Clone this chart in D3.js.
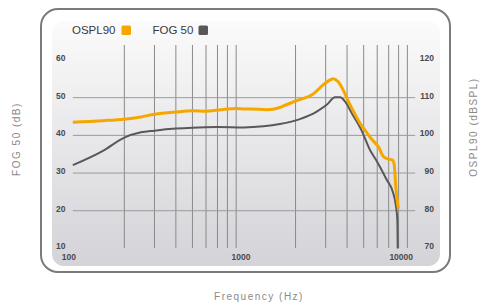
<!DOCTYPE html>
<html><head><meta charset="utf-8">
<script src="https://cdn.jsdelivr.net/npm/d3@7"></script>
<style>
html,body{margin:0;padding:0;background:#fff;}
svg{display:block;font-family:"Liberation Sans",Arial,Helvetica,sans-serif;}
</style></head>
<body><svg id="c" width="484" height="304"></svg>
<script>
// ---- data ----
const ospl90Freq = [100,150,200,250,300,400,500,600,700,800,900,1000,1100,1360,1620,1700,2030,2540,2900,3100,3320,3550,3800,4070,4550,4760,5090,5450,5960,6090,6510,6965,7350,7520,7730,7970];
const ospl90Vals = [103.5,103.9,104.3,104.9,105.6,106.2,106.5,106.4,106.7,107.0,107.1,107.0,107.0,106.8,107.4,107.8,109.2,111.0,113.4,114.4,115.0,114.2,112.0,109.0,104.8,103.2,101.4,99.5,97.5,97.0,94.4,93.7,93.5,92.6,85.5,80.6];
const fog50Freq = [100,150,200,250,300,400,500,700,1000,1300,1620,2120,2660,3040,3400,3640,3890,4260,4850,5445,5900,6816,7450,7727,7863,7905];
const fog50Vals = [32.1,35.9,39.4,40.8,41.25,41.8,42.05,42.2,42.1,42.4,43.0,44.3,46.3,48.1,50.1,50.1,49.0,45.9,41.4,36.1,33.5,28.2,24.6,21.1,17.6,10];
const gridFreqs = [200,300,400,500,600,700,800,900,2000,3000,4000,5000,6000,7000,8000,9000];
const xTickLabels = [100,1000,10000];
const leftTicks = [10,20,30,40,50,60];
const rightTicks = [70,80,90,100,110,120];
const hGridVals = [20,30,40,50];
const legendNames = ["OSPL90","FOG 50"];
const colors = {ospl:"#f5a700", fog:"#58585a"};

const svg = d3.select("#c");
const defs = svg.append("defs");
const grad = defs.append("linearGradient").attr("id","bg").attr("x1",0).attr("y1",0).attr("x2",0).attr("y2",1);
grad.append("stop").attr("offset","0%").attr("stop-color","#fbfbfb");
grad.append("stop").attr("offset","100%").attr("stop-color","#d3d3d8");

// frame
svg.append("rect").attr("x",41).attr("y",9).attr("width",409).attr("height",263).attr("rx",17)
  .attr("fill","#fff").attr("stroke","#7b7b7b").attr("stroke-width",2);
svg.append("rect").attr("x",52).attr("y",21).attr("width",388).attr("height",245).attr("rx",12)
  .attr("fill","url(#bg)");

const x = d3.scaleLog().domain([100,10000]).range([72.8,415.2]);
const yL = d3.scaleLinear().domain([10,60]).range([248.4,60]);
const yR = d3.scaleLinear().domain([70,120]).range([248.4,60]);

// vertical grid
svg.append("g").selectAll("line").data(gridFreqs).join("line")
  .attr("x1",d=>x(d)).attr("x2",d=>x(d)).attr("y1",45).attr("y2",248)
  .attr("stroke","#8a8a8a").attr("stroke-width",1);
// horizontal grid
svg.append("g").selectAll("line").data(hGridVals).join("line")
  .attr("x1",x(100)).attr("x2",x(10000)).attr("y1",d=>yL(d)).attr("y2",d=>yL(d))
  .attr("stroke","#9a9a9a").attr("stroke-width",1);

// tick labels
const tickStyle = s => s.attr("font-size",8.5).attr("font-weight","bold").attr("fill","#4a4a4a");
svg.append("g").selectAll("text").data(leftTicks).join("text")
  .attr("x",56).attr("y",d=>yL(d)+1).attr("text-anchor","start").call(tickStyle).text(d=>d);
svg.append("g").selectAll("text").data(rightTicks).join("text")
  .attr("x",434).attr("y",d=>yR(d)+1).attr("text-anchor","end").call(tickStyle).text(d=>d);
const xLabelShift = {100:-4,1000:-3,10000:-14};
svg.append("g").selectAll("text").data(xTickLabels).join("text")
  .attr("x",d=>x(d)+xLabelShift[d]).attr("y",259.5).attr("text-anchor","middle").call(tickStyle).text(d=>d);

// lines
const lineL = d3.line().x(d=>x(d[0])).y(d=>yL(d[1])).curve(d3.curveMonotoneX);
const lineR = d3.line().x(d=>x(d[0])).y(d=>yR(d[1])).curve(d3.curveMonotoneX);
svg.append("path").datum(d3.zip(fog50Freq,fog50Vals)).attr("d",lineL)
  .attr("fill","none").attr("stroke",colors.fog).attr("stroke-width",2).attr("stroke-linejoin","round");
svg.append("path").datum(d3.zip(ospl90Freq,ospl90Vals)).attr("d",lineR)
  .attr("fill","none").attr("stroke",colors.ospl).attr("stroke-width",3).attr("stroke-linejoin","round");

// legend
const leg = [{n:legendNames[0],c:colors.ospl,tx:72,sx:121.5},{n:legendNames[1],c:colors.fog,tx:152.5,sx:198.5}];
leg.forEach(l=>{
  svg.append("text").attr("x",l.tx).attr("y",34).attr("font-size",11.5).attr("fill","#3a3a3a").text(l.n);
  svg.append("rect").attr("x",l.sx).attr("y",25.5).attr("width",9.5).attr("height",9.5).attr("rx",1.5).attr("fill",l.c);
});

// axis titles
const titleStyle = s => s.attr("font-size",10).attr("fill","#8a8a8a").attr("letter-spacing",1.5).attr("text-anchor","middle");
svg.append("text").attr("x",259).attr("y",300).call(titleStyle).text("Frequency (Hz)");
svg.append("text").attr("transform","translate(20,139) rotate(-90)").call(titleStyle).text("FOG 50 (dB)");
svg.append("text").attr("transform","translate(477,127) rotate(-90)").call(titleStyle).text("OSPL90 (dBSPL)");
</script></body></html>
